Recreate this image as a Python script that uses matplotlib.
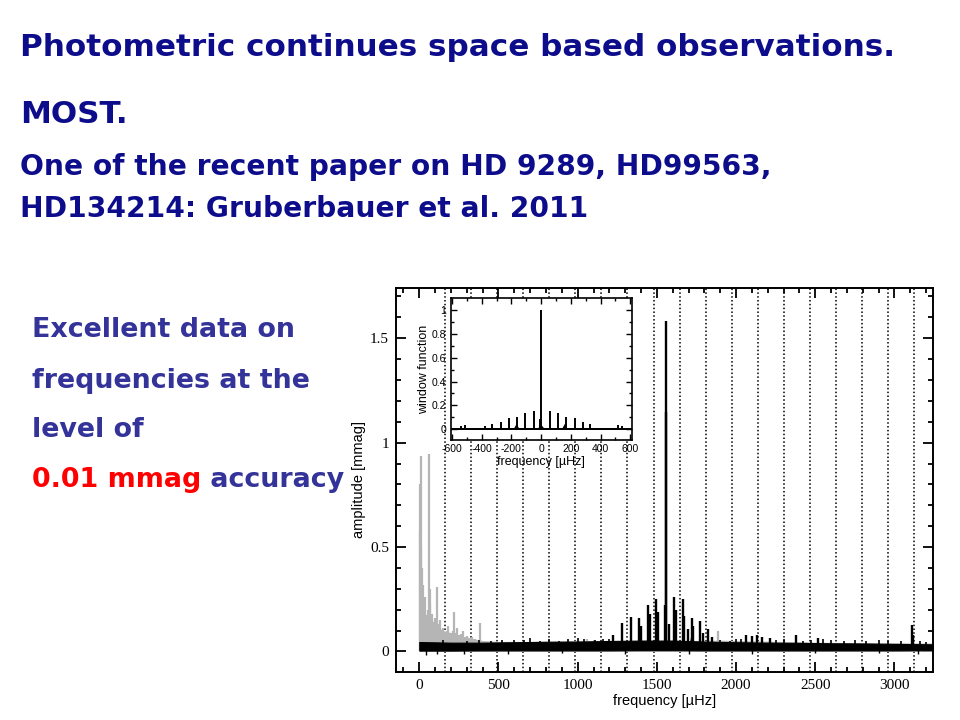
import numpy as np
import matplotlib
matplotlib.use('Agg')
import matplotlib.pyplot as plt
from matplotlib.ticker import MultipleLocator, FuncFormatter

plt.rcParams['axes.unicode_minus'] = False

W, H = 960, 720

# ---- slide text ----
title_lines = ['Photometric continues space based observations.', 'MOST.']
sub_lines = ['One of the recent paper on HD 9289, HD99563,', 'HD134214: Gruberbauer et al. 2011']
side_lines = ['Excellent data on', 'frequencies at the', 'level of']
side_red = '0.01 mmag'
side_last = ' accuracy'

# ---- main spectrum ----
# orbital harmonics (dotted lines), muHz
orbit_harm = [164, 329, 493, 657, 822, 986, 1150, 1314, 1479, 1643,
              1807, 1972, 2136, 2300, 2465, 2629, 2793, 2957, 3122]

# grey spectrum (original data)
grey_env_f = [0, 20, 50, 100, 150, 200, 250, 300, 350, 400, 500, 700, 1000, 1100, 1500, 1900, 2500, 3245]
grey_env_a = [0.30, 0.17, 0.18, 0.13, 0.10, 0.09, 0.078, 0.068, 0.06, 0.052, 0.048, 0.048,
              0.053, 0.052, 0.05, 0.054, 0.044, 0.04]
grey_peak_f = [3, 6, 9, 12, 14, 18, 21, 25, 28, 32, 35, 40, 44, 48, 52, 56, 61, 65, 68, 73,
               78, 84, 90, 95, 100, 106, 112, 117, 122, 131, 140, 147, 158, 165, 172, 181,
               190, 200, 210, 219, 228, 238, 246, 255, 264, 274, 287, 300, 315, 330, 350,
               383, 1060, 1100, 1888, 1950]
grey_peak_a = [0.58, 0.8, 0.935, 0.5, 0.40, 0.3, 0.32, 0.25, 0.22, 0.19, 0.26, 0.15, 0.17,
               0.14, 0.20, 0.16, 0.945, 0.3, 0.22, 0.15, 0.18, 0.12, 0.14, 0.11, 0.16, 0.12,
               0.31, 0.12, 0.13, 0.15, 0.1, 0.11, 0.09, 0.08, 0.1, 0.12, 0.09, 0.09, 0.1,
               0.19, 0.09, 0.11, 0.08, 0.08, 0.085, 0.096, 0.07, 0.075, 0.065, 0.07, 0.06,
               0.135, 0.06, 0.055, 0.10, 0.05]

# black spectrum (prewhitened)
black_env_f = [0, 200, 400, 600, 800, 1000, 1200, 1400, 1600, 1800, 2000, 2200, 2400,
               2600, 2800, 3000, 3245]
black_env_hi = [0.045, 0.042, 0.042, 0.044, 0.046, 0.047, 0.05, 0.052, 0.052, 0.047, 0.044,
                0.042, 0.041, 0.039, 0.038, 0.036, 0.034]
black_env_lo = [0.004, 0.004, 0.005, 0.005, 0.005, 0.005, 0.005, 0.006, 0.006, 0.005, 0.005,
                0.005, 0.005, 0.005, 0.005, 0.005, 0.006]
black_peak_f = [1225, 1278, 1336, 1389, 1400, 1442, 1456, 1494, 1509, 1550, 1556, 1558,
                1576, 1608, 1620, 1663, 1672, 1698, 1720, 1730, 1772, 1790, 1825, 1850,
                2062, 2098, 2130, 2161, 2214, 2376, 2517, 3108, 3115]
black_peak_a = [0.08, 0.136, 0.165, 0.16, 0.12, 0.223, 0.18, 0.25, 0.19, 0.22, 1.584, 1.148,
                0.13, 0.263, 0.20, 0.25, 0.17, 0.107, 0.16, 0.12, 0.145, 0.09, 0.107, 0.07,
                0.08, 0.075, 0.08, 0.07, 0.065, 0.08, 0.065, 0.128, 0.08]
black_small_f = [150, 300, 380, 450, 520, 600, 660, 700, 760, 820, 880, 940, 1000, 1040,
                 1110, 1160, 1200, 1900, 1960, 2000, 2030, 2250, 2300, 2420, 2470, 2550,
                 2600, 2680, 2750, 2820, 2900, 2960, 3040, 3160, 3200]
black_small_a = [0.055, 0.05, 0.055, 0.05, 0.055, 0.055, 0.055, 0.065, 0.05, 0.058, 0.05,
                 0.06, 0.065, 0.06, 0.055, 0.06, 0.058, 0.055, 0.05, 0.06, 0.06, 0.055,
                 0.06, 0.05, 0.055, 0.06, 0.055, 0.05, 0.055, 0.05, 0.055, 0.05, 0.05,
                 0.05, 0.045]
black_dip_f = [40, 110, 280, 560, 900, 1300, 1700, 2100, 2500, 2900, 3150]
black_dip_a = [-0.016, -0.012, -0.01, -0.01, -0.008, -0.012, -0.012, -0.01, -0.008, -0.008, -0.01]
# broad humps under the strongest modes: centre, half width, height
bump_f = [1389, 1442, 1494, 1556, 1608, 1720, 1772]
bump_w = [12, 8, 8, 10, 8, 15, 8]
bump_a = [0.10, 0.09, 0.10, 0.12, 0.10, 0.09, 0.07]

# ---- window function (inset) ----
win_f = [0, -8, -51, 60, -107, 116, -162, 171, -213, 227, -269, 282, -329, 331,
         -380, -515, -540, 520, 547]
win_a = [1.0, 0.09, 0.156, 0.156, 0.134, 0.134, 0.10, 0.10, 0.092, 0.092, 0.064, 0.064,
         0.045, 0.045, 0.03, 0.036, 0.03, 0.036, 0.028]
win_bump_f = [-165, 0, 160]
win_bump_w = [20, 25, 20]
win_bump_a = [0.045, 0.04, 0.045]


def fig_rect(x0, y0, x1, y1):
    # pixel box (top-left origin) -> figure fraction rect
    return [x0 / W, 1 - y1 / H, (x1 - x0) / W, (y1 - y0) / H]


def fit_size(fig, s, width_px, **kw):
    t = fig.text(0, 0, s, fontsize=20, **kw)
    w = t.get_window_extent(fig.canvas.get_renderer()).width
    t.remove()
    return 20 * width_px / w


fig = plt.figure(figsize=(W / 100, H / 100), dpi=100)
fig.patch.set_facecolor('white')

font = dict(family='DejaVu Sans', weight='bold')
navy = '#0d0d8c'
slate = '#333399'

fs_title = fit_size(fig, title_lines[0], 873, **font)
for s, yb in zip(title_lines, [56, 123]):
    fig.text(20 / W, 1 - yb / H, s, fontsize=fs_title, color=navy, va='baseline', **font)
fs_sub = fit_size(fig, sub_lines[0], 750, **font)
for s, yb in zip(sub_lines, [175, 217]):
    fig.text(20 / W, 1 - yb / H, s, fontsize=fs_sub, color=navy, va='baseline', **font)

fs_side = fit_size(fig, side_red + side_last, 313, **font)
for s, yb in zip(side_lines, [337, 388, 437]):
    fig.text(32 / W, 1 - yb / H, s, fontsize=fs_side, color=slate, va='baseline', **font)
t_red = fig.text(32 / W, 1 - 487 / H, side_red, fontsize=fs_side, color='#ff0000',
                 va='baseline', **font)
red_w = t_red.get_window_extent(fig.canvas.get_renderer()).width
fig.text((32 + red_w) / W, 1 - 487 / H, side_last, fontsize=fs_side, color=slate,
         va='baseline', **font)

# ---- main panel ----
ax = fig.add_axes(fig_rect(396, 287.5, 933.3, 672.3))
for f in orbit_harm:
    ax.axvline(f, color='black', ls=(0, (1, 1.5)), lw=1.1, zorder=1)

grey = '#b5b5b5'
ax.fill_between(grey_env_f, 0, grey_env_a, color=grey, lw=0, zorder=2)
ax.vlines(grey_peak_f, 0, grey_peak_a, color=grey, lw=1.6, zorder=2)

ax.fill_between(black_env_f, black_env_lo, black_env_hi, color='black', lw=0.8, zorder=3)
ax.vlines(black_small_f, 0.01, black_small_a, color='black', lw=1.2, zorder=3)
ax.vlines(black_dip_f, black_dip_a, 0.01, color='black', lw=1.0, zorder=3)
for c, w, a in zip(bump_f, bump_w, bump_a):
    ax.fill([c - w, c, c + w], [0.02, a, 0.02], color='black', lw=0, zorder=3)
ax.vlines(black_peak_f, 0.01, black_peak_a, color='black', lw=1.7, zorder=4)

ax.set_xlim(-147, 3245)
ax.set_ylim(-0.1, 1.743)
ax.xaxis.set_major_locator(MultipleLocator(500))
ax.xaxis.set_minor_locator(MultipleLocator(100))
ax.yaxis.set_major_locator(MultipleLocator(0.5))
ax.yaxis.set_minor_locator(MultipleLocator(0.1))
ax.yaxis.set_major_formatter(FuncFormatter(lambda v, p: '%g' % v))
ax.tick_params(which='both', direction='in', top=True, right=True, width=1.3)
ax.tick_params(which='major', length=7, labelsize=11, pad=5)
ax.tick_params(which='minor', length=3.5)
for lab in ax.get_xticklabels() + ax.get_yticklabels():
    lab.set_family('Liberation Serif')
for sp in ax.spines.values():
    sp.set_linewidth(1.4)
ax.set_xlabel('frequency [µHz]', family='Liberation Sans', fontsize=10.5, labelpad=1)
ax.set_ylabel('amplitude [mmag]', family='Liberation Sans', fontsize=10.5, labelpad=3)

# ---- inset: window function ----
ins = fig.add_axes(fig_rect(450.5, 298.3, 631.7, 440))
ins.fill_between([-610, 610], [-0.008, -0.008], [0.014, 0.014], color='black', lw=0)
for c, w, a in zip(win_bump_f, win_bump_w, win_bump_a):
    ins.fill([c - w, c, c + w], [0.0, a, 0.0], color='black', lw=0)
ins.vlines(win_f, 0, win_a, color='black', lw=1.4)
ins.set_xlim(-610, 610)
ins.set_ylim(-0.09, 1.098)
ins.xaxis.set_major_locator(MultipleLocator(200))
ins.xaxis.set_minor_locator(MultipleLocator(100))
ins.yaxis.set_major_locator(MultipleLocator(0.2))
ins.yaxis.set_minor_locator(MultipleLocator(0.1))
ins.yaxis.set_major_formatter(FuncFormatter(lambda v, p: '%g' % round(v, 1)))
ins.tick_params(which='both', direction='in', top=True, right=True, width=1.0,
                labelsize=7.5, pad=3)
ins.tick_params(which='major', length=4)
ins.tick_params(which='minor', length=2)
for lab in ins.get_xticklabels() + ins.get_yticklabels():
    lab.set_family('Liberation Sans')
for sp in ins.spines.values():
    sp.set_linewidth(1.2)
ins.set_xlabel('frequency [µHz]', family='Liberation Sans', fontsize=9, labelpad=1)
ins.set_ylabel('window function', family='Liberation Sans', fontsize=9, labelpad=1)

fig.savefig('out.png', dpi=100)
